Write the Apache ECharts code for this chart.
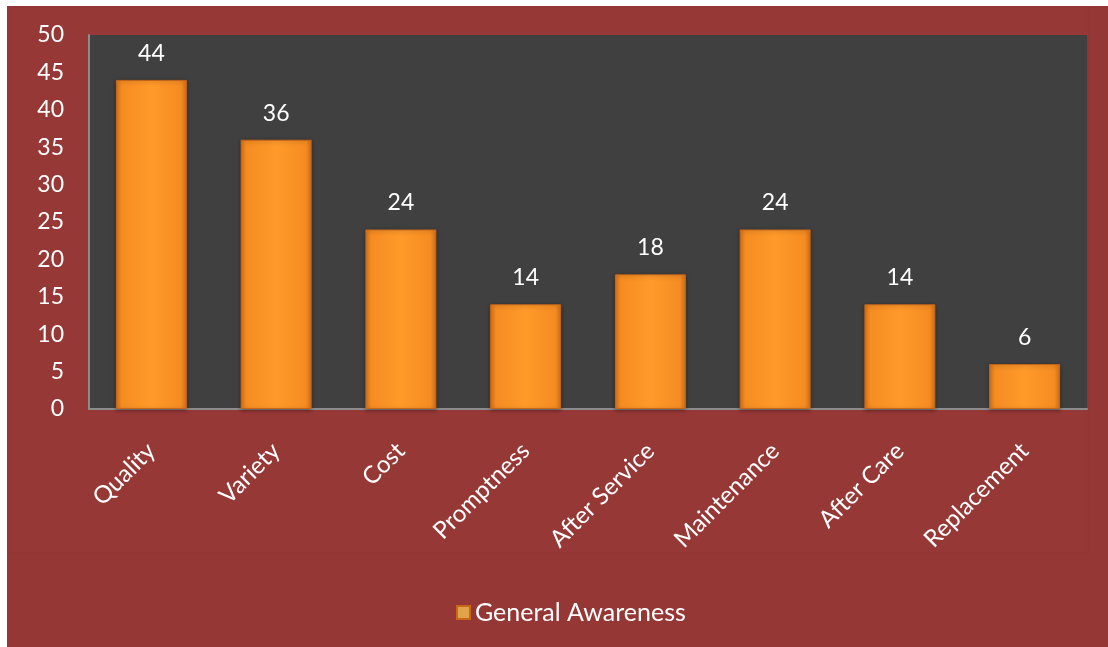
<!DOCTYPE html>
<html>
<head>
<meta charset="utf-8">
<script src="https://cdn.jsdelivr.net/npm/echarts@6/dist/echarts.min.js"></script>
<style>
  html, body { margin: 0; padding: 0; background: #ffffff; }
  #bg { position: absolute; left: 7px; top: 6px; width: 1101px; height: 641px; background: #953735; }
  #chart { position: absolute; left: 0; top: 0; width: 1108px; height: 647px; }
</style>
</head>
<body>
<div id="bg"></div>
<div id="chart"></div>
<script>
const categories = ['Quality', 'Variety', 'Cost', 'Promptness', 'After Service', 'Maintenance', 'After Care', 'Replacement'];
const awarenessValues = [44, 36, 24, 14, 18, 24, 14, 6];
const seriesName = 'General Awareness';
const yTicks = { min: 0, max: 50, interval: 5 };

const FONT = 'Lato, "Open Sans", sans-serif';
const chart = echarts.init(document.getElementById('chart'));

const barColor = new echarts.graphic.LinearGradient(0, 0, 1, 0, [
  { offset: 0, color: '#D9721A' },
  { offset: 0.08, color: '#F58C22' },
  { offset: 0.5, color: '#FF9A2A' },
  { offset: 0.92, color: '#F58C22' },
  { offset: 1, color: '#D9721A' }
]);

chart.setOption({
  backgroundColor: 'transparent',
  animation: false,
  graphic: [{
    type: 'rect',
    shape: { x: 8, y: 7, width: 1080, height: 546 },
    style: { fill: 'rgba(255,255,255,0.008)', stroke: 'rgba(0,0,0,0.035)', lineWidth: 1 },
    z: -1
  }],
  grid: {
    left: 89, right: 21, top: 35, bottom: 238,
    show: true, backgroundColor: '#404040', borderWidth: 0
  },
  legend: {
    bottom: 17,
    left: 451,
    icon: 'rect',
    itemWidth: 13,
    itemHeight: 13,
    itemGap: 8,
    textStyle: { color: '#ffffff', fontSize: 25, fontFamily: FONT },
    data: [{ name: seriesName, itemStyle: { color: '#E2A24A' } }]
  },
  xAxis: {
    type: 'category',
    data: categories,
    axisLine: { show: true, lineStyle: { color: '#8C8C8C', width: 2 } },
    axisTick: { show: false },
    axisLabel: {
      rotate: 45,
      interval: 0,
      margin: 38,
      color: '#ffffff',
      fontSize: 24,
      fontFamily: FONT
    }
  },
  yAxis: {
    type: 'value',
    min: yTicks.min,
    max: yTicks.max,
    interval: yTicks.interval,
    axisLine: { show: true, lineStyle: { color: '#8C8C8C', width: 2 } },
    axisTick: { show: false },
    splitLine: { show: false },
    axisLabel: {
      margin: 25,
      color: '#ffffff',
      fontSize: 23,
      fontFamily: FONT
    }
  },
  series: [{
    name: seriesName,
    type: 'bar',
    data: awarenessValues,
    barWidth: 71,
    itemStyle: {
      color: barColor,
      borderColor: '#C8661A',
      borderWidth: 1,
      shadowColor: 'rgba(0,0,0,0.35)',
      shadowBlur: 4,
      shadowOffsetY: 1
    },
    label: {
      show: true,
      position: 'top',
      distance: 15,
      color: '#ffffff',
      fontSize: 23,
      fontFamily: FONT
    }
  }]
});
</script>
</body>
</html>
